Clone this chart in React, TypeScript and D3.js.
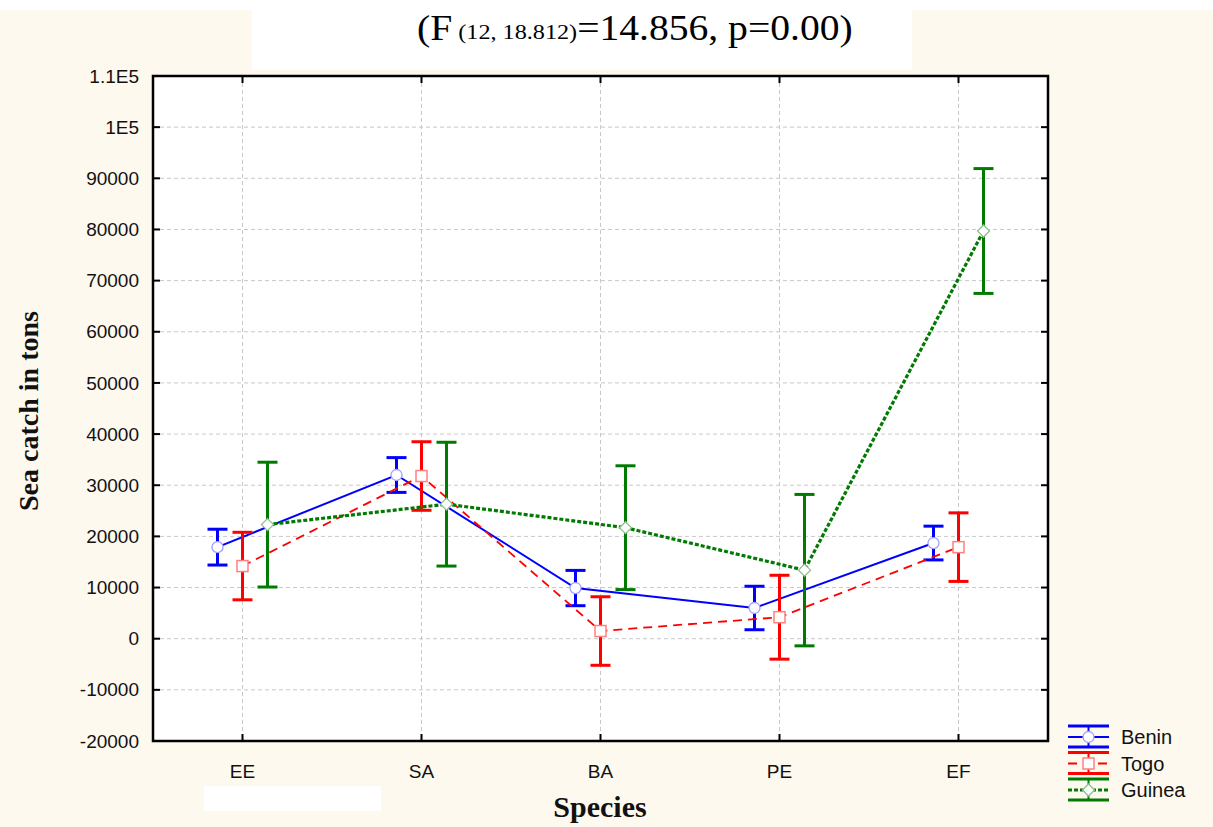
import React, { useEffect } from "react";
import * as d3 from "d3";

const categories = ["EE", "SA", "BA", "PE", "EF"];
const beninMean = [17900, 32000, 9900, 6000, 18700];
const beninErr = [3500, 3400, 3450, 4250, 3300];
const togoMean = [14200, 31800, 1500, 4200, 17900];
const togoErr = [6600, 6700, 6700, 8200, 6700];
const guineaMean = [22300, 26300, 21700, 13400, 79700];
const guineaErr = [12200, 12100, 12100, 14800, 12200];
const yTicks = [-20000, -10000, 0, 10000, 20000, 30000, 40000, 50000, 60000, 70000, 80000, 90000, 100000, 110000];
const yTickLabels = ["-20000", "-10000", "0", "10000", "20000", "30000", "40000", "50000", "60000", "70000", "80000", "90000", "1E5", "1.1E5"];
const seriesNames = ["Benin", "Togo", "Guinea"];

const W = 1213;
const H = 827;
const margin = { top: 76, right: 165, bottom: 86, left: 153 };
const serif = "Liberation Serif, Times New Roman, serif";
const sans = "Liberation Sans, Arial, sans-serif";

const series = [
  { name: seriesNames[0], mean: beninMean, err: beninErr, color: "#0000ff", marker: "circle", offset: -25, dash: null, lw: 2, mk: "#a0a0ff" },
  { name: seriesNames[1], mean: togoMean, err: togoErr, color: "#ff0000", marker: "square", offset: 0, dash: "9 6", lw: 1.8, mk: "#ff8080" },
  { name: seriesNames[2], mean: guineaMean, err: guineaErr, color: "#007a00", marker: "diamond", offset: 25, dash: "4 2", lw: 3.2, mk: "#90c090" },
];

function Marker({ type, x, y, stroke }: { type: string; x: number; y: number; stroke: string }) {
  if (type === "circle") return <circle cx={x} cy={y} r={5.5} fill="#fff" stroke={stroke} strokeWidth={1.3} />;
  if (type === "square") return <rect x={x - 5.5} y={y - 5.5} width={11} height={11} fill="#fff" stroke={stroke} strokeWidth={1.5} />;
  return <path d={`M${x},${y - 6}L${x + 6},${y}L${x},${y + 6}L${x - 6},${y}Z`} fill="#fff" stroke={stroke} strokeWidth={1.3} />;
}

export default function App() {
  useEffect(() => {
    document.body.style.margin = "0";
  }, []);

  const x = d3.scaleBand().domain(categories).range([margin.left, W - margin.right]).padding(0);
  const y = d3.scaleLinear().domain([-20000, 110000]).range([H - margin.bottom, margin.top]);
  const cx = (c: string) => (x(c) as number) + x.bandwidth() / 2;
  const top = y(110000);
  const bottom = y(-20000);
  const left = margin.left;
  const right = W - margin.right;

  return (
    <svg width={W} height={H} style={{ display: "block" }}>
      <rect x={0} y={0} width={W} height={H} fill="#ffffff" />
      <rect x={0} y={10} width={W} height={H - 10} fill="#fdf9ef" />
      <rect x={252} y={10} width={660} height={60} fill="#ffffff" />
      <rect x={204} y={786} width={177} height={25} fill="#ffffff" />
      <rect x={left} y={top} width={right - left} height={bottom - top} fill="#ffffff" />

      {/* title */}
      <text transform="translate(417,40) scale(1.1,1)" fontFamily={serif} fontSize={36} fill="#000">
        (F<tspan fontSize={22} dy={-1}> (12, 18.812)</tspan>
        <tspan dy={1}>=14.856, p=0.00)</tspan>
      </text>

      {/* grid */}
      {yTicks.filter((t) => t > -20000 && t < 110000).map((t) => (
        <line key={"gy" + t} x1={left} x2={right} y1={y(t)} y2={y(t)} stroke="#c8c8c8" strokeWidth={1} strokeDasharray="4 3" />
      ))}
      {categories.map((c) => (
        <line key={"gx" + c} x1={cx(c)} x2={cx(c)} y1={top} y2={bottom} stroke="#c8c8c8" strokeWidth={1} strokeDasharray="4 3" />
      ))}

      {/* ticks */}
      {yTicks.map((t) => (
        <g key={"t" + t}>
          <line x1={left} x2={left + 7} y1={y(t)} y2={y(t)} stroke="#000" strokeWidth={2} />
          <line x1={right - 7} x2={right} y1={y(t)} y2={y(t)} stroke="#000" strokeWidth={2} />
        </g>
      ))}
      {categories.map((c) => (
        <g key={"tx" + c}>
          <line x1={cx(c)} x2={cx(c)} y1={top} y2={top + 7} stroke="#000" strokeWidth={2} />
          <line x1={cx(c)} x2={cx(c)} y1={bottom - 7} y2={bottom} stroke="#000" strokeWidth={2} />
        </g>
      ))}
      <rect x={left} y={top} width={right - left} height={bottom - top} fill="none" stroke="#000" strokeWidth={2.5} />

      {/* tick labels */}
      {yTicks.map((t, i) => (
        <text key={"yl" + t} x={left - 14} y={y(t)} dy="0.35em" textAnchor="end" fontFamily={sans} fontSize={19} fill="#111">
          {yTickLabels[i]}
        </text>
      ))}
      {categories.map((c) => (
        <text key={"xl" + c} x={cx(c)} y={778} textAnchor="middle" fontFamily={sans} fontSize={19} fill="#111">
          {c}
        </text>
      ))}

      {/* axis titles */}
      <text x={600} y={817} textAnchor="middle" fontFamily={serif} fontWeight="bold" fontSize={30} fill="#111">
        Species
      </text>
      <text transform="translate(38,411) rotate(-90)" textAnchor="middle" fontFamily={serif} fontWeight="bold" fontSize={28} fill="#111">
        Sea catch in tons
      </text>

      {/* series */}
      {series.map((s) => {
        const line = d3
          .line<number>()
          .x((_, i) => cx(categories[i]) + s.offset)
          .y((d) => y(d));
        return (
          <g key={s.name}>
            {s.mean.map((m, i) => {
              const px = cx(categories[i]) + s.offset;
              return (
                <g key={i}>
                  <line x1={px} x2={px} y1={y(m + s.err[i])} y2={y(m - s.err[i])} stroke={s.color} strokeWidth={3} />
                  <line x1={px - 10} x2={px + 10} y1={y(m + s.err[i])} y2={y(m + s.err[i])} stroke={s.color} strokeWidth={3} />
                  <line x1={px - 10} x2={px + 10} y1={y(m - s.err[i])} y2={y(m - s.err[i])} stroke={s.color} strokeWidth={3} />
                </g>
              );
            })}
            <path d={line(s.mean) || ""} fill="none" stroke={s.color} strokeWidth={s.lw} strokeDasharray={s.dash || undefined} />
            {s.mean.map((m, i) => (
              <Marker key={"m" + i} type={s.marker} x={cx(categories[i]) + s.offset} y={y(m)} stroke={s.mk} />
            ))}
          </g>
        );
      })}

      {/* legend */}
      {series.map((s, i) => {
        const ly = 737 + i * 26.5;
        const lx = 1068;
        return (
          <g key={"lg" + s.name}>
            <line x1={lx} x2={lx + 41} y1={ly - 11} y2={ly - 11} stroke={s.color} strokeWidth={3} />
            <line x1={lx} x2={lx + 41} y1={ly + 10} y2={ly + 10} stroke={s.color} strokeWidth={3} />
            <line x1={lx + 20.5} x2={lx + 20.5} y1={ly - 11} y2={ly + 10} stroke={s.color} strokeWidth={2} />
            <line x1={lx} x2={lx + 41} y1={ly} y2={ly} stroke={s.color} strokeWidth={s.lw} strokeDasharray={s.dash || undefined} />
            <Marker type={s.marker} x={lx + 20.5} y={ly} stroke={s.mk} />
            <text x={1121} y={ly} dy="0.35em" fontFamily={sans} fontSize={20} fill="#111">
              {s.name}
            </text>
          </g>
        );
      })}
    </svg>
  );
}
